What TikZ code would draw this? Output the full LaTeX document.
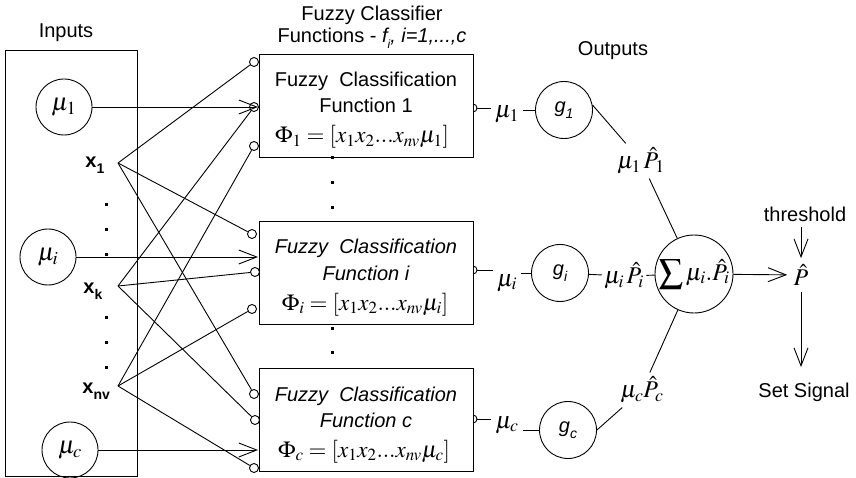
\documentclass[tikz,border=0pt]{standalone}
\usepackage{mathptmx}
\usepackage[no-math]{fontspec}
\setmainfont{Liberation Sans}
\usetikzlibrary{arrows.meta}
\newcommand{\sbx}[2][14]{\raisebox{-6pt}{\fontsize{#1}{#1}\selectfont #2}}
\newcommand{\mth}[2][23]{{\fontsize{#1}{#1}\selectfont$#2$}}
\begin{document}
\begin{tikzpicture}[x=1pt,y=-1pt,line width=0.9pt,
  every node/.style={font=\fontsize{20}{24}\selectfont},
  bigc/.style={circle,draw,minimum size=56pt,inner sep=0pt},
  gc/.style={circle,draw,minimum size=57pt,inner sep=0pt},
  pinc/.style={circle,draw,fill=white,minimum size=9pt,inner sep=0pt},
  fbox/.style={draw,minimum width=214pt,minimum height=103pt,inner sep=0pt,anchor=north west},
  arr/.style={-{Straight Barb[length=18pt,width=14pt]}},
  lbl/.style={inner sep=4pt},
  txt/.style={inner sep=0pt,anchor=base},
  sq/.style={fill=black}]
\useasboundingbox (0,0) rectangle (856,478);

% ---------------- inputs ----------------
\node[txt] (inputs) at (66,38) {Inputs};
\node[draw,minimum width=132pt,minimum height=426pt,inner sep=0pt,anchor=north west] (inbox) at (5,50) {};
\node[bigc] (mu1) at (64,107) {\mth[25]{\mu_1}};
\node[bigc] (mui) at (48,257) {\mth[25]{\mu_i}};
\node[bigc] (muc) at (70,450) {\mth[25]{\mu_c}};

\node[inner sep=0pt,anchor=base west] (x1) at (85,168) {\textbf{x}\sbx{\bfseries 1}};
\node[inner sep=0pt,anchor=base west] (xk) at (83,293) {\textbf{x}\sbx{\bfseries k}};
\node[inner sep=0pt,anchor=base west] (xnv) at (82,393) {\textbf{x}\sbx{\bfseries nv}};
\coordinate (c1) at (118,163);
\coordinate (ck) at (118,286);
\coordinate (cnv) at (118,386);

\foreach \yy in {205,230,255,317,342,367}
  \fill[sq] (104.5,\yy-1.5) rectangle ++(3,3);

% ---------------- function boxes ----------------
\node at (372,15) {Fuzzy Classifier};
\node[txt] (hdr) at (372,43) {Functions - {\itshape f\sbx[12]{i}, i=1,...,c}};

\node[fbox] (fb1) at (259,54) {};
\node[fbox] (fb2) at (259,221) {};
\node[fbox] (fb3) at (259,368) {};

\node[txt] (t1a) at (366,87) {Fuzzy~ Classification};
\node[txt] (t1b) at (366,113) {Function 1};
\node[txt] (t1c) at (362,143) {\mth{\Phi_1=[x_1x_2...x_{nv}\mu_1]}};
\node[txt] (t2a) at (366,254) {\itshape Fuzzy~ Classification};
\node[txt] (t2b) at (366,280) {\itshape Function i};
\node[txt] (t2c) at (365,310) {\mth{\Phi_i=[x_1x_2...x_{nv}\mu_i]}};
\node[txt] (t3a) at (366,401) {\itshape Fuzzy~ Classification};
\node[txt] (t3b) at (366,427) {\itshape Function c};
\node[txt] (t3c) at (364,457) {\mth{\Phi_c=[x_1x_2...x_{nv}\mu_c]}};

\foreach \yy in {158,183,208,328,352}
  \fill[sq] (330.5,\yy-1.5) rectangle ++(3,3);

% input pins
\node[pinc] (p1a) at (254,62) {};
\node[pinc] (p1b) at (254,107) {};
\node[pinc] (p1c) at (254,146) {};
\node[pinc] (p2a) at (252,234) {};
\node[pinc] (p2c) at (255,272) {};
\node[pinc] (p2d) at (252,309) {};
\node[pinc] (p3a) at (254,394) {};
\node[pinc] (p3b) at (255,420) {};
\node[pinc] (p3d) at (254,468) {};

\foreach \t in {p1a,p2a,p3a} \draw (c1) -- (\t);
\foreach \t in {p1b,p2c,p3b} \draw (ck) -- (\t);
\foreach \t in {p1c,p2d,p3d} \draw (cnv) -- (\t);

\coordinate (a1) at (258,107);
\coordinate (a2) at (258,257);
\coordinate (a3) at (258,450);
\draw[arr] (mu1) -- (a1);
\draw[arr] (mui) -- (a2);
\draw[arr] (muc) -- (a3);

% ---------------- outputs ----------------
\node[txt] (outs) at (613,56) {Outputs};

\draw (473,104) arc[start angle=90,end angle=-90,radius=4pt];
\draw (473,266) arc[start angle=90,end angle=-90,radius=4pt];
\draw (473,415) arc[start angle=90,end angle=-90,radius=4pt];
\coordinate (o1) at (477,108);
\coordinate (oi) at (477,270);
\coordinate (oc) at (477,419);

\node[lbl,anchor=base] (m1) at (507,118) {\mth[24]{\mu_1}};
\node[lbl,anchor=base] (mi) at (507,286) {\mth[24]{\mu_i}};
\node[lbl,anchor=base] (mc) at (507,428) {\mth[24]{\mu_c}};

\node[gc] (g1) at (564,110) {\itshape g\sbx{1}};
\node[gc] (gi) at (560,273) {\itshape g\sbx{i}};
\node[gc] (gcc) at (568,430) {\itshape g\sbx{c}};

\draw (o1) -- (o1 -| m1.west);
\draw (oi) -- (oi -| mi.west);
\draw (oc) -- (oc -| mc.west);
\draw (m1.east |- g1) -- (g1);
\draw (mi.east |- gi) -- (gi);
\draw (mc.east |- gcc) -- (gcc);

\node[lbl] (q1) at (641,161) {\mth[24]{\mu_1\,\hat{P}_1}};
\node[lbl,inner sep=2pt] (qi) at (624,276) {\mth[24]{\mu_i\,\hat{P}_i}};
\node[lbl] (qc) at (642,390) {\mth[24]{\mu_c\hat{P}_c}};

\node[circle,draw,minimum size=78pt,inner sep=0pt] (sum) at (694,274)
  {\makebox[50pt][c]{\mth[24]{\displaystyle\sum\mu_i.\hat{P}_i}}};

\draw (g1.10) -- (q1);
\draw (q1) -- (sum);
\draw (gi) -- (qi);
\draw (qi) -- (sum);
\draw (gcc.east) -- (qc);
\draw (qc) -- (sum);

\node[inner sep=6pt] (ph) at (801,275) {\mth[24]{\hat{P}}};
\node[txt,inner sep=4pt] (thr) at (805,222) {threshold};
\node[txt] (sig) at (804,397) {Set Signal};

\draw[arr] (sum) -- (ph);
\draw[arr] (thr.south -| ph.north) -- (ph.north);
\draw[arr] (ph.south) -- ([yshift=15pt]ph.south |- sig.north);
\end{tikzpicture}
\end{document}
